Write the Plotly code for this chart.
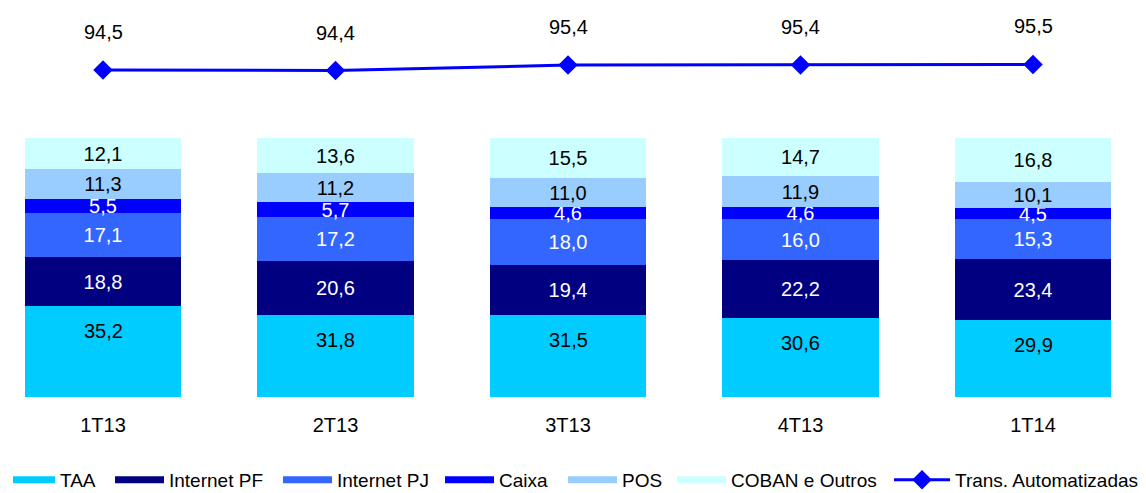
import plotly.graph_objects as go

periods = ["1T13", "2T13", "3T13", "4T13", "1T14"]

taa = [35.2, 31.8, 31.5, 30.6, 29.9]
internet_pf = [18.8, 20.6, 19.4, 22.2, 23.4]
internet_pj = [17.1, 17.2, 18.0, 16.0, 15.3]
caixa = [5.5, 5.7, 4.6, 4.6, 4.5]
pos = [11.3, 11.2, 11.0, 11.9, 10.1]
coban = [12.1, 13.6, 15.5, 14.7, 16.8]
trans_auto = [94.5, 94.4, 95.4, 95.4, 95.5]

FONT = "Liberation Sans, Arial, sans-serif"

# name, values, bar colour, label colour
series = [
    ("TAA", taa, "#00CCFF", "#000000"),
    ("Internet PF", internet_pf, "#000080", "#FFFFFF"),
    ("Internet PJ", internet_pj, "#3366FF", "#FFFFFF"),
    ("Caixa", caixa, "#0000FF", "#FFFFFF"),
    ("POS", pos, "#99CCFF", "#000000"),
    ("COBAN e Outros", coban, "#CCFFFF", "#000000"),
]

# left edge and symbol width of each legend entry, in figure px
legend_x = [0, 102, 270, 432, 555, 664, 881]
legend_w = [42, 49, 49, 49, 49, 49, 56]
legend_keys = ["legend"] + [f"legend{i}" for i in range(2, 8)]


def fmt(v):
    return f"{v:.1f}".replace(".", ",")


fig = go.Figure()

for i, (name, vals, color, tcolor) in enumerate(series):
    is_taa = name == "TAA"
    fig.add_trace(go.Bar(
        x=periods, y=vals, marker=dict(color=color, line=dict(width=0)),
        width=0.675, texttemplate="" if is_taa else "%{y:.1f}",
        textposition="inside", insidetextanchor="middle",
        textfont=dict(color=tcolor, size=20, family=FONT),
        showlegend=False, hoverinfo="skip",
    ))
    # legend swatch drawn as a wide line like the original
    fig.add_trace(go.Scatter(
        x=[None], y=[None], mode="lines", name=name, legend=legend_keys[i],
        line=dict(color=color, width=7),
    ))

# TAA labels sit near the top of the segment, as in the source
for p, v in zip(periods, taa):
    fig.add_annotation(
        x=p, y=v, text=fmt(v), showarrow=False, yshift=-25,
        font=dict(size=20, color="#000000", family=FONT),
    )

fig.add_trace(go.Scatter(
    x=periods, y=trans_auto, yaxis="y2", mode="lines+markers",
    name="Trans. Automatizadas", legend=legend_keys[6],
    line=dict(color="#0000FF", width=3),
    marker=dict(symbol="diamond", size=15, color="#0000FF"),
))

for p, v in zip(periods, trans_auto):
    fig.add_annotation(
        x=p, y=v, yref="y2", text=fmt(v),
        showarrow=False, yshift=38, font=dict(size=20, color="#000000", family=FONT),
    )

layout_legends = {}
for key, lx, lw in zip(legend_keys, legend_x, legend_w):
    layout_legends[key] = dict(
        orientation="h", xref="container", yref="container",
        x=lx / 1146, xanchor="left", y=1 - 472 / 493, yanchor="middle",
        font=dict(size=19), itemwidth=lw,
        bgcolor="rgba(0,0,0,0)",
    )

fig.update_layout(
    width=1146, height=493,
    barmode="stack",
    bargap=0,
    separators=",.",
    plot_bgcolor="white", paper_bgcolor="white",
    margin=dict(l=0, r=0, t=0, b=104),
    font=dict(family=FONT, color="#000000"),
    uniformtext=dict(minsize=20, mode="show"),
    xaxis=dict(range=[-0.4086, 4.5204], showline=False, showgrid=False, ticks="",
               tickfont=dict(size=20), ticklabelstandoff=14),
    yaxis=dict(range=[0, 150.2], visible=False),
    yaxis2=dict(range=[35.05, 105.77], overlaying="y", visible=False),
    **layout_legends,
)

fig.write_html("out.html")
